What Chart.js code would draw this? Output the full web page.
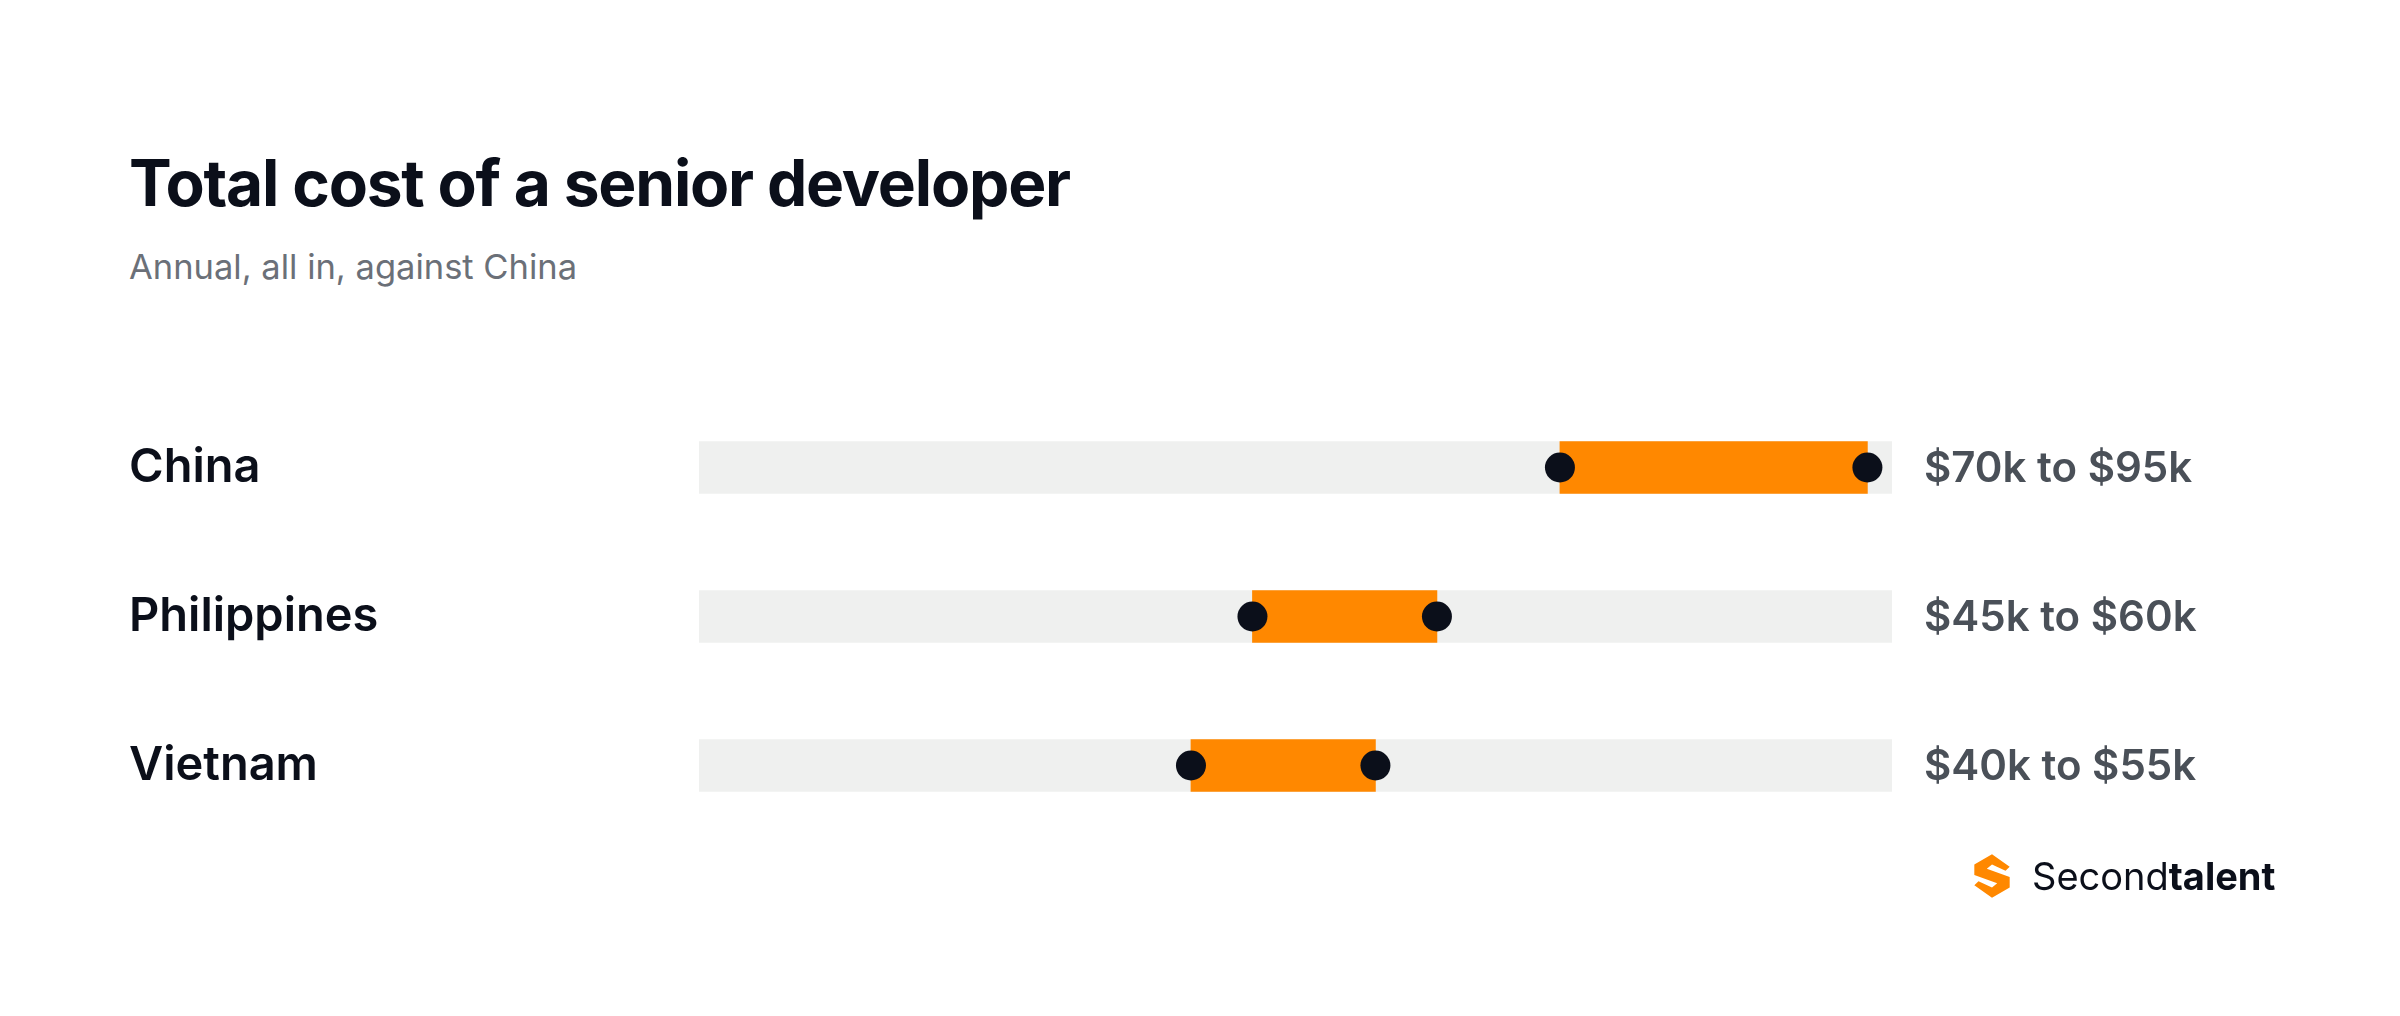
<!DOCTYPE html>
<html>
<head>
<meta charset="utf-8">
<script src="https://cdn.jsdelivr.net/npm/chart.js@4"></script>
<style>
  html, body { margin: 0; padding: 0; background: #fff; }
  body { width: 2400px; height: 1016px; position: relative; overflow: hidden; font-family: Inter, "Noto Sans", sans-serif; }
  #title { position: absolute; left: 129px; top: 144px; font-size: 64px; font-weight: 700; color: #0b0f1a; letter-spacing: -1.2px; }
  #subtitle { position: absolute; left: 129px; top: 246px; font-size: 34.5px; color: #6b7078; }
  #wrap { position: absolute; left: 0; top: 0; width: 2400px; height: 1016px; }
  #logo { position: absolute; left: 1966px; top: 850px; display: flex; align-items: center; gap: 14px; font-size: 38px; color: #0b0f1a; }
</style>
</head>
<body>
<div id="title">Total cost of a senior developer</div>
<div id="subtitle">Annual, all in, against China</div>
<div id="wrap"><canvas id="chart" width="2400" height="1016"></canvas></div>
<div id="logo">
  <svg width="52" height="52" viewBox="0 0 50 50">
    <path d="M25 4 L8 14 L8 24 L30 32 L25 36 L12 30 L8 34 L25 46 L42 36 L42 26 L20 18 L25 14 L38 20 L42 16 Z" fill="#ff8800"/>
  </svg>
  <span>Second<b>talent</b></span>
</div>
<script>
const countries = ['China', 'Philippines', 'Vietnam'];
const lowValues = [70, 45, 40];
const highValues = [95, 60, 55];
const rangeLabels = ['$70k to $95k', '$45k to $60k', '$40k to $55k'];
const axisMax = 97;

const dotsAndLabels = {
  id: 'dotsAndLabels',
  afterDatasetsDraw(chart) {
    const ctx = chart.ctx;
    const x = chart.scales.x, y = chart.scales.y;
    ctx.save();
    countries.forEach((c, i) => {
      const yy = y.getPixelForValue(i);
      [lowValues[i], highValues[i]].forEach(v => {
        ctx.beginPath();
        ctx.arc(x.getPixelForValue(v), yy, 15, 0, Math.PI * 2);
        ctx.fillStyle = '#0b0f1a';
        ctx.fill();
      });
      ctx.fillStyle = '#4a5058';
      ctx.font = '600 42px Inter, "Noto Sans", sans-serif';
      ctx.textBaseline = 'middle';
      ctx.textAlign = 'left';
      ctx.fillText(rangeLabels[i], chart.chartArea.right + 32, yy + 2);
    });
    ctx.restore();
  }
};

new Chart(document.getElementById('chart'), {
  type: 'bar',
  data: {
    labels: countries,
    datasets: [
      {
        data: countries.map((c, i) => [lowValues[i], highValues[i]]),
        backgroundColor: '#ff8800',
        barThickness: 52,
        grouped: false,
        order: 1
      },
      {
        data: countries.map(() => [0, axisMax]),
        backgroundColor: '#eff0ef',
        barThickness: 52,
        grouped: false,
        order: 2
      }
    ]
  },
  options: {
    indexAxis: 'y',
    responsive: false,
    animation: false,
    layout: { padding: { left: 129, right: 508, top: 393, bottom: 176 } },
    plugins: { legend: { display: false }, tooltip: { enabled: false } },
    scales: {
      x: { display: false, min: 0, max: axisMax },
      y: {
        grid: { display: false },
        border: { display: false },
        afterFit(s) { s.width = 570; },
        ticks: {
          crossAlign: 'far',
          padding: 0,
          color: '#0b0f1a',
          font: { family: 'Inter, "Noto Sans", sans-serif', size: 47, weight: '600' }
        }
      }
    }
  },
  plugins: [dotsAndLabels]
});
</script>
</body>
</html>
